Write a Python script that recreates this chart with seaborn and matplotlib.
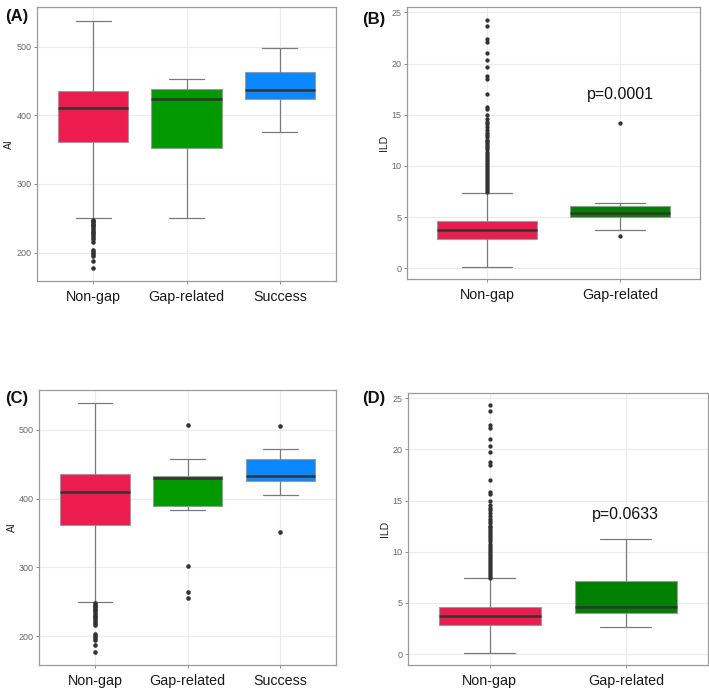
import matplotlib
matplotlib.use("Agg")
import matplotlib.pyplot as plt
import seaborn as sns
import pandas as pd

# ---------------- data ----------------
groups3 = ["Non-gap", "Gap-related", "Success"]
groups2 = ["Non-gap", "Gap-related"]

# box summaries: [lower whisker, Q1, median, Q3, upper whisker]
a_nongap = [250, 361, 410, 435, 538]
a_gap = [251, 352, 424, 439, 453]
a_success = [375, 424, 437, 463, 498]

b_nongap = [0.13, 2.83, 3.70, 4.62, 7.36]
b_gap = [3.70, 5.00, 5.35, 6.05, 6.40]

c_nongap = [250, 361, 410, 435, 538]
c_gap = [383, 389, 430, 433, 457]
c_success = [405, 425, 432, 457, 472]

d_nongap = [0.15, 2.82, 3.71, 4.62, 7.40]
d_gap = [2.65, 4.04, 4.58, 7.10, 11.25]

# outliers
ai_nongap_out = [248, 246, 244, 242, 240, 238, 236, 233, 230, 228, 225, 222,
                 219, 216, 204, 201, 198, 195, 188, 178]
ild_nongap_out = [7.4, 7.6, 7.8, 8.0, 8.2, 8.4, 8.6, 8.8, 9.0, 9.2, 9.4, 9.6,
                  9.8, 10.0, 10.2, 10.4, 10.6, 10.8, 11.0, 11.2, 11.4, 11.6,
                  11.8, 12.0, 12.2, 12.4, 12.5, 12.8, 13.0, 13.2, 13.5, 13.8,
                  14.05, 14.3, 14.6, 15.0, 15.6, 15.8, 17.0, 18.5, 18.8, 19.7,
                  20.3, 21.0, 22.1, 22.4, 23.7, 24.3]
b_gap_out = [3.15, 14.2]
c_gap_out = [506, 301.5, 264.5, 256]
c_success_out = [505, 351]

p_b = "p=0.0001"
p_d = "p=0.0633"

red = "#EC1C4F"
green_a = "#009900"
green_b = "#008000"
blue = "#0A88FF"

# ---------------- style ----------------
sns.set_theme(style="white")
plt.rcParams["font.family"] = ["Liberation Sans", "DejaVu Sans"]

fig = plt.figure(figsize=(7.09, 6.96), dpi=100)


def px_axes(l, t, r, b):
    W, H = 709.0, 696.0
    return fig.add_axes([l / W, 1 - b / H, (r - l) / W, (b - t) / H])


def panel(ax, cats, boxes, outliers, colors, ylabel, ylim, yticks, dotsize):
    rows = []
    for c, v in zip(cats, boxes):
        for val in v:
            rows.append({"group": c, "value": val})
    df = pd.DataFrame(rows)
    orow = []
    for c, v in zip(cats, outliers):
        for val in v:
            orow.append({"group": c, "value": val})
    odf = pd.DataFrame(orow)

    sns.boxplot(data=df, x="group", y="value", hue="group", order=cats,
                hue_order=cats, palette=dict(zip(cats, colors)),
                saturation=1, whis=(0, 100), showfliers=False, width=0.75,
                linecolor="#8c8c8c", linewidth=0.9, legend=False, ax=ax,
                medianprops=dict(color="#333333", linewidth=1.8),
                boxprops=dict(edgecolor="#9a9a9a", linewidth=0.8),
                whiskerprops=dict(color="#7a7a7a", linewidth=0.9),
                capprops=dict(color="#7a7a7a", linewidth=0.9))
    sns.stripplot(data=odf, x="group", y="value", order=cats, jitter=False,
                  color="#333333", size=dotsize, linewidth=0, ax=ax)

    ax.set_xlim(-0.6, len(cats) - 0.4)
    ax.set_ylim(*ylim)
    ax.set_yticks(yticks)
    ax.set_yticklabels([str(t) for t in yticks])
    ax.grid(True, color="#EBEBEB", linewidth=0.8)
    ax.set_axisbelow(True)
    for s in ax.spines.values():
        s.set_color("#9a9a9a")
        s.set_linewidth(0.9)
    ax.tick_params(axis="y", labelsize=6.5, labelcolor="#6a6a6a", length=2.5,
                   width=0.6, color="#777777", pad=1.5, left=True)
    ax.tick_params(axis="x", labelsize=10.3, labelcolor="#1a1a1a", length=2.5,
                   width=0.6, color="#777777", pad=4, bottom=True)
    ax.set_xlabel("")
    ax.set_ylabel(ylabel, fontsize=7.5, color="#222222", labelpad=1.5)


axA = px_axes(37, 7.3, 336, 281)
panel(axA, groups3, [a_nongap, a_gap, a_success],
      [ai_nongap_out, [], []], [red, green_a, blue], "AI",
      (158.5, 557.5), [200, 300, 400, 500], 3.3)

axB = px_axes(407, 7.3, 700, 279)
panel(axB, groups2, [b_nongap, b_gap], [ild_nongap_out, b_gap_out],
      [red, green_b], "ILD", (-1.06, 25.5), [0, 5, 10, 15, 20, 25], 3.1)
axB.text(1, 17.0, p_b, ha="center", va="center", fontsize=11.5,
         color="#111111")

axC = px_axes(39.3, 390, 336, 665)
panel(axC, groups3, [c_nongap, c_gap, c_success],
      [ai_nongap_out, c_gap_out, c_success_out], [red, green_a, blue], "AI",
      (158.5, 557.5), [200, 300, 400, 500], 3.3)

axD = px_axes(408, 393, 707.5, 665)
panel(axD, groups2, [d_nongap, d_gap], [ild_nongap_out, []],
      [red, green_b], "ILD", (-1.06, 25.5), [0, 5, 10, 15, 20, 25], 3.1)
axD.text(1, 13.6, p_d, ha="center", va="center", fontsize=11.5,
         color="#111111")

W, H = 709.0, 696.0
for lab, x, y in [("(A)", 5, 17), ("(B)", 362, 19.5), ("(C)", 5, 398),
                  ("(D)", 362, 398)]:
    fig.text(x / W, 1 - y / H, lab, ha="left", va="center", fontsize=12,
             fontweight="bold", color="#111111")

fig.savefig("out.png", dpi=100)
